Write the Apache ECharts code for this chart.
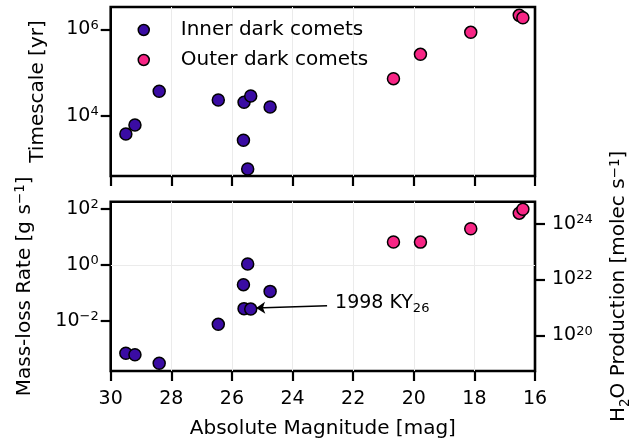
<!DOCTYPE html>
<html><head><meta charset="utf-8">
<script src="https://cdn.jsdelivr.net/npm/echarts@6/dist/echarts.min.js"></script>
<style>html,body{margin:0;padding:0;background:#fff}#c{width:629px;height:443px}</style>
</head><body><div id="c"></div>
<script>
// ---- data ----
const magInner   = [29.5, 29.2, 28.4, 26.45, 25.6, 25.38, 24.74, 25.62, 25.48];
const timeInner  = [3770, 6100, 36700, 23000, 20400, 28600, 15900, 2700, 583];
const massInner  = [6.8e-4, 6.0e-4, 3.0e-4, 7.4e-3, 0.027, 0.026, 0.112, 0.195, 1.07];
const magOuter   = [20.67, 19.78, 18.12, 16.52, 16.40];
const timeOuter  = [72000, 263000, 850000, 2.1e6, 1.85e6];
const massOuter  = [6.6, 6.5, 19.5, 70.8, 97.7];
const seriesNames = ['Inner dark comets', 'Outer dark comets'];
const topTicks  = [1e4, 1e6];
const massTicks = [1e-2, 1e0, 1e2];
const h2oTicks  = [1e20, 1e22, 1e24];
const annotFrom = [22.86, 0.034];   // arrow tail (mag, g/s)
const annotTo   = [25.2, 0.0285];   // arrow head
const annotText = '1998 KY';
const annotSub  = '26';
const H2O_PER_GRAM = 3.343e22;      // molecules of water per gram
const massMin = 1.58e-4, massMax = 182;
const timeMin = 402, timeMax = 3.28e6;

const INNER = '#3a0ca3', OUTER = '#f72585';
const FONT = 'DejaVu Sans';

const richTick = {
  b: {fontSize: 19, fontFamily: FONT, color: '#000', lineHeight: 19, verticalAlign: 'bottom'},
  s: {fontSize: 13, fontFamily: FONT, color: '#000', lineHeight: 13, verticalAlign: 'bottom', padding: [0, 0, 7, 0]}
};
const richName = {
  b: {fontSize: 20, fontFamily: FONT, color: '#000', lineHeight: 20, verticalAlign: 'bottom', padding: [0, 0, 3, 0]},
  u: {fontSize: 13.5, fontFamily: FONT, color: '#000', lineHeight: 13.5, verticalAlign: 'bottom'},
  s: {fontSize: 13.5, fontFamily: FONT, color: '#000', lineHeight: 13.5, verticalAlign: 'bottom', padding: [0, 0, 10, 0]}
};
function powLabel(v) {
  const e = Math.round(Math.log10(v));
  return '{b|10}{s|' + String(e).replace('-', '\u2212') + '}';
}
const tickStyle = {show: true, length: 10, inside: false, lineStyle: {color: '#000', width: 2.2}};
const splitStyle = {show: true, showMinLine: false, showMaxLine: false, lineStyle: {color: '#ebebeb', width: 1}};

function xAxis(grid, labels) {
  return {
    type: 'value', gridIndex: grid, min: 16, max: 30, interval: 2, inverse: true,
    position: 'bottom',
    axisLine: {show: false}, axisTick: tickStyle, splitLine: splitStyle,
    axisLabel: {show: labels, fontSize: 19, fontFamily: FONT, color: '#000', margin: 19},
    name: labels ? 'Absolute Magnitude [mag]' : '', nameLocation: 'middle', nameGap: 48,
    nameTextStyle: {fontSize: 20, fontFamily: FONT, color: '#000'}
  };
}
const scatterBase = {
  type: 'scatter', symbol: 'circle', symbolSize: 12,
  emphasis: {disabled: true}
};
function pairs(xs, ys) { return xs.map((x, i) => [x, ys[i]]); }
function mstyle(c) { return {color: c, opacity: 1, borderColor: '#000', borderWidth: 1.5}; }

const option = {
  animation: false,
  backgroundColor: '#fff',
  grid: [
    {left: 110.7, top: 7, width: 424.3, height: 169, outerBoundsMode: 'none', containLabel: false,
     show: true, borderColor: '#000', borderWidth: 2.6, backgroundColor: 'transparent'},
    {left: 110.7, top: 201.7, width: 424.3, height: 169.3, outerBoundsMode: 'none', containLabel: false,
     show: true, borderColor: '#000', borderWidth: 2.6, backgroundColor: 'transparent'}
  ],
  legend: {
    left: 132.5, top: 15, orient: 'vertical', icon: 'circle',
    itemWidth: 11, itemHeight: 11, itemGap: 10,
    itemStyle: {borderColor: '#000', borderWidth: 1.5, opacity: 1},
    textStyle: {fontSize: 20, fontFamily: FONT, color: '#000', lineHeight: 20, padding: [0, 0, 0, 26.5]},
    data: seriesNames, selectedMode: false
  },
  xAxis: [xAxis(0, false), xAxis(1, true)],
  yAxis: [
    {type: 'log', gridIndex: 0, min: timeMin, max: timeMax, position: 'left',
     axisLine: {show: false},
     axisTick: Object.assign({customValues: topTicks}, tickStyle),
     axisLabel: {customValues: topTicks, formatter: powLabel, rich: richTick, margin: 12},
     splitLine: splitStyle,
     name: '{b|Timescale [yr]}', nameLocation: 'middle', nameGap: 60,
     nameTextStyle: {rich: richName}},
    {type: 'log', gridIndex: 1, min: massMin, max: massMax, position: 'left',
     axisLine: {show: false},
     axisTick: Object.assign({customValues: massTicks}, tickStyle),
     axisLabel: {customValues: massTicks, formatter: powLabel, rich: richTick, margin: 12},
     splitLine: splitStyle,
     name: '{b|Mass-loss Rate [g s}{s|\u22121}{b|]}', nameLocation: 'middle', nameGap: 73,
     nameTextStyle: {rich: richName}},
    {type: 'log', gridIndex: 1, min: massMin * H2O_PER_GRAM, max: massMax * H2O_PER_GRAM, position: 'right',
     axisLine: {show: false},
     axisTick: Object.assign({customValues: h2oTicks}, tickStyle),
     axisLabel: {customValues: h2oTicks, formatter: powLabel, rich: richTick, margin: 17},
     splitLine: {show: false},
     name: '{b|H}{u|2}{b|O Production [molec s}{s|\u22121}{b|]}', nameLocation: 'middle', nameGap: 77,
     nameTextStyle: {rich: richName}}
  ],
  series: [
    Object.assign({}, scatterBase, {name: seriesNames[0], xAxisIndex: 0, yAxisIndex: 0,
      itemStyle: mstyle(INNER), data: pairs(magInner, timeInner)}),
    Object.assign({}, scatterBase, {name: seriesNames[1], xAxisIndex: 0, yAxisIndex: 0,
      itemStyle: mstyle(OUTER), data: pairs(magOuter, timeOuter)}),
    Object.assign({}, scatterBase, {name: seriesNames[0], xAxisIndex: 1, yAxisIndex: 1,
      itemStyle: mstyle(INNER), data: pairs(magInner, massInner),
      markLine: {
        silent: true, animation: false, symbol: ['none', 'arrow'], symbolSize: 9,
        lineStyle: {color: '#000', width: 1.5, type: 'solid', opacity: 1},
        emphasis: {disabled: true},
        label: {show: true, position: 'start', distance: 8,
          formatter: '{b|' + annotText + '}{u|' + annotSub + '}',
          rich: {
            b: {fontSize: 19, fontFamily: FONT, color: '#000', lineHeight: 19, verticalAlign: 'bottom', padding: [0, 0, 3, 0]},
            u: {fontSize: 13, fontFamily: FONT, color: '#000', lineHeight: 13, verticalAlign: 'bottom'}
          }},
        data: [[{coord: annotFrom}, {coord: annotTo}]]
      }}),
    Object.assign({}, scatterBase, {name: seriesNames[1], xAxisIndex: 1, yAxisIndex: 1,
      itemStyle: mstyle(OUTER), data: pairs(magOuter, massOuter)})
  ]
};
const chart = echarts.init(document.getElementById('c'), null, {renderer: 'canvas'});
chart.setOption(option);
</script></body></html>
